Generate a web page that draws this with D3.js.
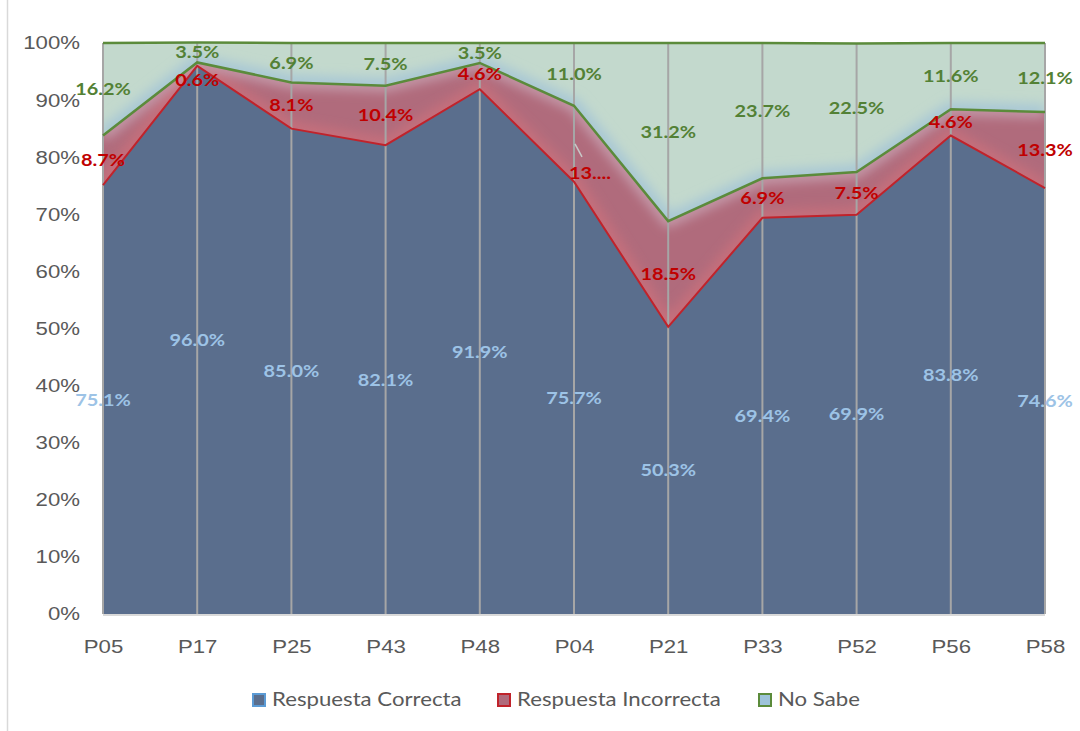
<!DOCTYPE html>
<html>
<head>
<meta charset="utf-8">
<script src="https://cdn.jsdelivr.net/npm/d3@7"></script>
<style>
  body { margin: 0; background: #fff; }
  svg { display: block; font-family: Lato, "Open Sans", sans-serif; }
</style>
</head>
<body>
<div id="chart-area"></div>
<script>
// data
var preguntas = ['P05', 'P17', 'P25', 'P43', 'P48', 'P04', 'P21', 'P33', 'P52', 'P56', 'P58'];
var correcta = [75.1, 96.0, 85.0, 82.1, 91.9, 75.7, 50.3, 69.4, 69.9, 83.8, 74.6];
var incorrecta = [8.7, 0.6, 8.1, 10.4, 4.6, 13.3, 18.5, 6.9, 7.5, 4.6, 13.3];
var noSabe = [16.2, 3.5, 6.9, 7.5, 3.5, 11.0, 31.2, 23.7, 22.5, 11.6, 12.1];
var yTicks = [0, 10, 20, 30, 40, 50, 60, 70, 80, 90, 100];
var series = ['Respuesta Correcta', 'Respuesta Incorrecta', 'No Sabe'];

var width = 1080, height = 731;
var plot = { left: 103, right: 1045, top: 43, bottom: 614 };
var stretch = 1.2; // the original font is wider than Lato

var rows = preguntas.map((p, i) => ({ p: p, c: correcta[i], inc: incorrecta[i], ns: noSabe[i] }));
var keys = ['c', 'inc', 'ns'];
var stack = d3.stack().keys(keys)(rows);

var fills = ['#5a6e8d', '#b06b7c', '#c3d9cd'];
var lines = ['#c0232b', '#c0232b', '#5b8b3b'];
var labelColors = ['#9dc3e6', '#c00000', '#538135'];

var svg = d3.select('#chart-area')
	.append('svg')
	.attr('width', width)
	.attr('height', height);

// outer chart border (only left edge shows)
svg.append('line')
	.attr('x1', 7.5).attr('x2', 7.5)
	.attr('y1', 0).attr('y2', height)
	.attr('stroke', '#d9d9d9').attr('stroke-width', 1.5);

var x = d3.scalePoint()
	.domain(preguntas)
	.range([plot.left, plot.right]);

var y = d3.scaleLinear()
	.domain([0, 100])
	.range([plot.bottom, plot.top]);

var defs = svg.append('defs');
defs.append('filter').attr('id', 'glow')
	.attr('x', '-10%').attr('y', '-10%').attr('width', '120%').attr('height', '120%')
	.append('feGaussianBlur').attr('stdDeviation', 6);

var area = d3.area()
	.x(d => x(d.data.p))
	.y0(d => y(d[0]))
	.y1(d => y(d[1]));

var edge = d3.line()
	.x(d => x(d.data.p))
	.y(d => y(d[0]));

var topEdge = d3.line()
	.x(d => x(d.data.p))
	.y(d => y(d[1]));

// areas
stack.forEach((s, i) => {
	defs.append('clipPath').attr('id', 'clip' + i)
		.append('path').attr('d', area(s));
	svg.append('path')
		.attr('d', area(s))
		.attr('fill', fills[i]);
});

// soft glow along the boundaries, like the Excel effect
svg.append('path')
	.attr('d', topEdge(stack[0]))
	.attr('clip-path', 'url(#clip1)')
	.attr('fill', 'none')
	.attr('stroke', '#c7707c')
	.attr('stroke-width', 14)
	.attr('filter', 'url(#glow)');
svg.append('path')
	.attr('d', topEdge(stack[1]))
	.attr('clip-path', 'url(#clip1)')
	.attr('fill', 'none')
	.attr('stroke', '#c9a4b4')
	.attr('stroke-width', 10)
	.attr('filter', 'url(#glow)');
svg.append('path')
	.attr('d', topEdge(stack[1]))
	.attr('clip-path', 'url(#clip2)')
	.attr('fill', 'none')
	.attr('stroke', '#a6c6d6')
	.attr('stroke-width', 14)
	.attr('filter', 'url(#glow)');

// vertical grid lines
svg.append('g')
	.selectAll('line')
	.data(preguntas)
	.enter()
		.append('line')
		.attr('x1', d => x(d)).attr('x2', d => x(d))
		.attr('y1', plot.top).attr('y2', plot.bottom)
		.attr('stroke', '#a6a6a6')
		.attr('stroke-width', 2);

// boundary lines
svg.append('path')
	.attr('d', edge(stack[1]))
	.attr('fill', 'none').attr('stroke', lines[1]).attr('stroke-width', 2);
svg.append('path')
	.attr('d', edge(stack[2]))
	.attr('fill', 'none').attr('stroke', lines[2]).attr('stroke-width', 2.5);
svg.append('path')
	.attr('d', topEdge(stack[2]))
	.attr('fill', 'none').attr('stroke', lines[2]).attr('stroke-width', 2.5);

// bottom axis line
svg.append('line')
	.attr('x1', plot.left).attr('x2', plot.right)
	.attr('y1', plot.bottom + 1).attr('y2', plot.bottom + 1)
	.attr('stroke', '#d9d9d9').attr('stroke-width', 2);

// axes
var yAxis = d3.axisLeft(y)
	.tickValues(yTicks)
	.tickSize(0)
	.tickFormat(d => d + '%');
svg.append('g')
	.attr('transform', 'translate(' + plot.left + ',0)')
	.call(yAxis)
	.call(g => g.select('.domain').remove())
	.selectAll('text')
		.attr('x', 0)
		.attr('transform', 'translate(-23,0) scale(' + stretch + ',1)')
		.attr('font-size', 18.5)
		.attr('fill', '#595959');

var xAxis = d3.axisBottom(x).tickSize(0);
svg.append('g')
	.attr('transform', 'translate(0,' + plot.bottom + ')')
	.call(xAxis)
	.call(g => g.select('.domain').remove())
	.selectAll('text')
		.attr('y', 0)
		.attr('transform', 'translate(0,26) scale(' + stretch + ',1)')
		.attr('font-size', 18.5)
		.attr('fill', '#595959');

// data labels, centred in each band
var labelText = (k, d) => (k === 'inc' && d.data.p === 'P04') ? '13....' : d3.format('.1f')(d.data[k]) + '%';
var labelShift = { 'inc-P17': [0, 16], 'inc-P04': [16, 29], 'inc-P48': [0, -2] };
var shift = (k, d) => labelShift[k + '-' + d.data.p] || [0, 0];

// leader line for the moved P04 label
var p04 = stack[1][5];
var p04y = y((p04[0] + p04[1]) / 2);
svg.append('line')
	.attr('x1', x('P04') + 1).attr('y1', p04y)
	.attr('x2', x('P04') + 8).attr('y2', p04y + 13)
	.attr('stroke', '#c8c8c8').attr('stroke-width', 1.5);

stack.forEach((s, i) => {
	svg.append('g')
		.selectAll('text')
		.data(s)
		.enter()
			.append('text')
			.attr('transform', d => 'translate(' + (x(d.data.p) + shift(s.key, d)[0]) + ',' +
				(y((d[0] + d[1]) / 2) + shift(s.key, d)[1]) + ') scale(1.17,1)')
			.attr('dy', '0.35em')
			.attr('text-anchor', 'middle')
			.attr('font-size', 17)
			.attr('font-weight', 'bold')
			.attr('fill', labelColors[i])
			.text(d => labelText(s.key, d));
});

// legend
var legendX = [252, 497, 758];
var legend = svg.append('g').attr('transform', 'translate(0,700)');
series.forEach((name, i) => {
	legend.append('rect')
		.attr('x', legendX[i] + 1).attr('y', -6)
		.attr('width', 12).attr('height', 12)
		.attr('fill', i === 2 ? '#9dc3d9' : fills[i])
		.attr('stroke', i === 0 ? '#5b9bd5' : lines[i])
		.attr('stroke-width', 2);
	legend.append('text')
		.attr('transform', 'translate(' + (legendX[i] + 20) + ',0) scale(' + stretch + ',1)')
		.attr('dy', '0.35em')
		.attr('font-size', 18.5)
		.attr('fill', '#595959')
		.text(name);
});
</script>
</body>
</html>
